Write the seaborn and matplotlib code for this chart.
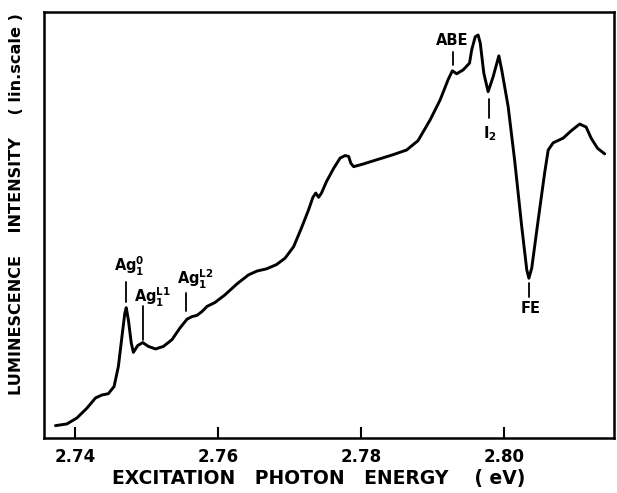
import numpy as np
import pandas as pd
import matplotlib
matplotlib.use("Agg")
import matplotlib.pyplot as plt
import seaborn as sns

# Photon energy (eV) and luminescence intensity (arb. lin. units)
energy = [2.7373, 2.7389, 2.7403, 2.7417, 2.7429, 2.7438, 2.7447, 2.7455, 2.7461,
          2.7466, 2.7470, 2.7472, 2.7475, 2.7479, 2.7482, 2.7488, 2.7495, 2.7503,
          2.7513, 2.7524, 2.7536, 2.7547, 2.7557, 2.7564, 2.7571, 2.7578, 2.7585,
          2.7596, 2.7610, 2.7627, 2.7643, 2.7655, 2.7668, 2.7682, 2.7694, 2.7706,
          2.7717, 2.7727, 2.7733, 2.7737, 2.7741, 2.7745, 2.7752, 2.7762, 2.7771,
          2.7778, 2.7783, 2.7786, 2.7790, 2.7803, 2.7822, 2.7845, 2.7864, 2.7880,
          2.7897, 2.7911, 2.7922, 2.7928, 2.7934, 2.7943, 2.7952, 2.7955, 2.7960,
          2.7964, 2.7967, 2.7972, 2.7978, 2.7985, 2.7993, 2.7997, 2.8006, 2.8015,
          2.8025, 2.8032, 2.8035, 2.8039, 2.8048, 2.8057, 2.8062, 2.8069, 2.8083,
          2.8094, 2.8106, 2.8115, 2.8122, 2.8131, 2.8141]
intensity = [2.9, 3.3, 4.7, 7.0, 9.4, 10.1, 10.4, 12.1, 16.8,
             23.8, 29.3, 30.6, 27.7, 22.3, 20.1, 21.7, 22.4, 21.5,
             20.9, 21.5, 23.1, 25.8, 27.9, 28.5, 28.8, 29.7, 30.9,
             31.8, 33.6, 36.2, 38.3, 39.2, 39.7, 40.7, 42.2, 44.9,
             49.3, 53.6, 56.5, 57.5, 56.5, 57.5, 60.2, 63.3, 65.7,
             66.3, 66.1, 64.5, 63.7, 64.3, 65.3, 66.5, 67.6, 69.8,
             74.7, 79.4, 84.1, 86.2, 85.5, 86.4, 88.0, 91.1, 94.2,
             94.6, 92.7, 85.6, 81.3, 84.8, 89.7, 86.4, 77.8, 65.3,
             49.6, 39.5, 37.5, 39.9, 51.2, 62.2, 67.6, 69.3, 70.4,
             72.1, 73.7, 73.0, 70.4, 68.0, 66.7]

# Peak labels: text, marker x, marker y range, text position
label_text = [r"Ag$_1^0$", r"Ag$_1^{L1}$", r"Ag$_1^{L2}$", "ABE", r"I$_2$", "FE"]
mark_x = [2.7472, 2.7495, 2.7556, 2.7929, 2.7979, 2.8035]
mark_y0 = [32.0, 23.1, 29.7, 87.5, 75.1, 33.2]
mark_y1 = [36.7, 31.0, 34.1, 90.7, 79.6, 36.4]
text_x = [2.7476, 2.7508, 2.7569, 2.7928, 2.7981, 2.8037]
text_y = [40.3, 33.0, 37.3, 93.4, 71.4, 30.4]

xticks = [2.74, 2.76, 2.78, 2.80]
xtick_labels = ["2.74", "2.76", "2.78", "2.80"]

sns.set_style("white")
plt.rcParams["font.family"] = ["DejaVu Sans"]
plt.rcParams["font.weight"] = "bold"
plt.rcParams["mathtext.fontset"] = "dejavusans"
plt.rcParams["mathtext.default"] = "bf"
plt.rcParams["text.color"] = "black"
plt.rcParams["axes.labelcolor"] = "black"
plt.rcParams["xtick.color"] = "black"
plt.rcParams["ytick.color"] = "black"

fig = plt.figure(figsize=(6.17, 4.93), dpi=100)
ax = fig.add_axes([44 / 617, 1 - 438 / 493, 570 / 617, 426 / 493])

df = pd.DataFrame({"energy": energy, "intensity": intensity})
sns.lineplot(data=df, x="energy", y="intensity", ax=ax, color="black",
             linewidth=2.1, estimator=None, solid_joinstyle="round", solid_capstyle="round")

for i in range(len(label_text)):
    ax.plot([mark_x[i], mark_x[i]], [mark_y0[i], mark_y1[i]], color="black", lw=1.3)
    ax.text(text_x[i], text_y[i], label_text[i], ha="center", va="center",
            fontsize=10.5, fontweight="bold", color="black")

ax.set_xlim(2.7357, 2.8154)
ax.set_ylim(0, 100)
ax.set_xticks(xticks)
ax.set_xticklabels(xtick_labels, fontsize=12, fontweight="bold", color="black")
ax.set_yticks([])
ax.tick_params(axis="x", direction="in", length=8, width=1.5, pad=7, bottom=True, top=False,
               colors="black")
for s in ax.spines.values():
    s.set_linewidth(1.8)
    s.set_color("black")

ax.set_xlabel("EXCITATION   PHOTON   ENERGY    ( eV)", fontsize=13.5, fontweight="bold",
              color="black")
ax.xaxis.set_label_coords(0.4825, -0.073)
ax.set_ylabel("LUMINESCENCE    INTENSITY    ( lin.scale )", fontsize=11.6, fontweight="bold",
              color="black")
ax.yaxis.set_label_coords(-0.035, 0.55)

fig.savefig("out.png", dpi=100)
